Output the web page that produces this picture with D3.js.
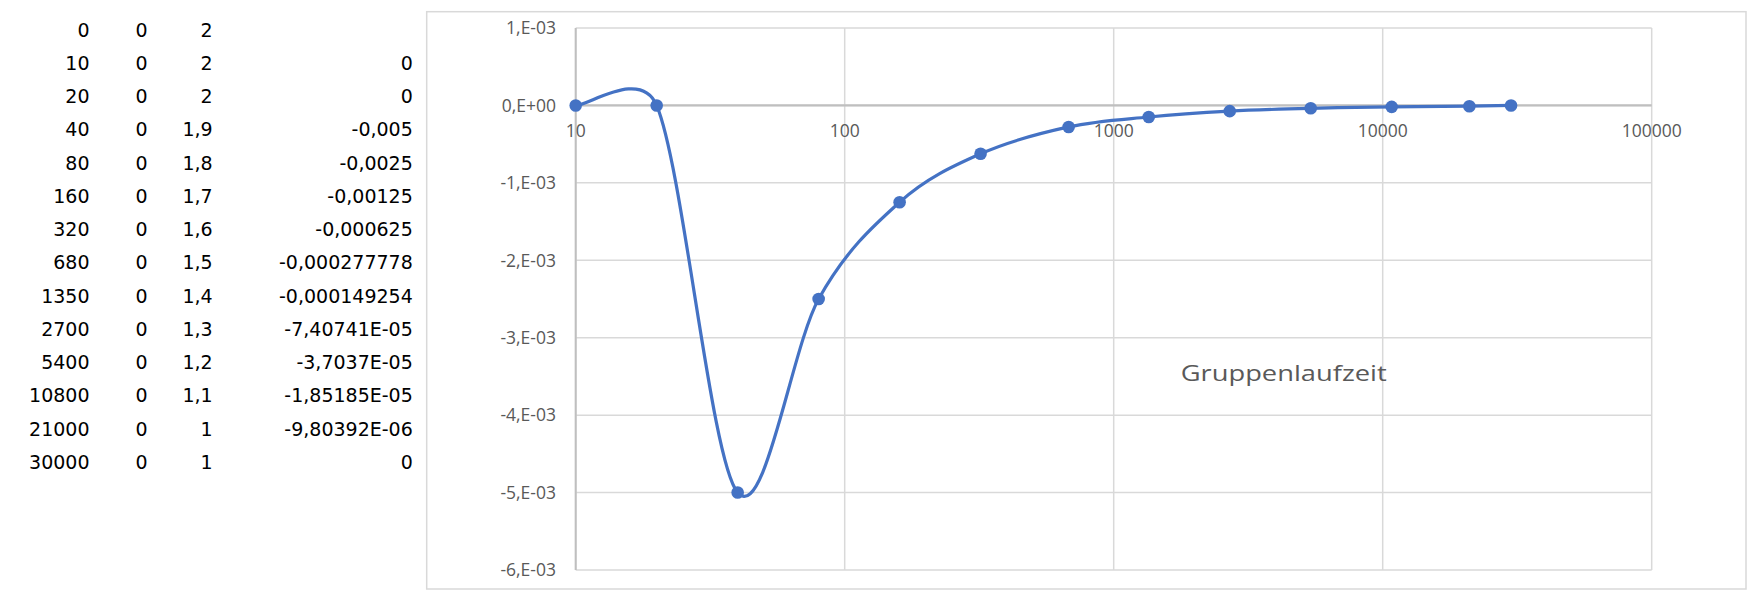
<!DOCTYPE html>
<html><head><meta charset="utf-8">
<script src="https://cdn.jsdelivr.net/npm/d3@7"></script>
<style>body{margin:0;background:#fff}svg{display:block}</style>
</head><body><svg id="c" width="1762" height="605"></svg>
<script>
// ---- data ----
const freq = [0, 10, 20, 40, 80, 160, 320, 680, 1350, 2700, 5400, 10800, 21000, 30000];
const col2 = [0, 0, 0, 0, 0, 0, 0, 0, 0, 0, 0, 0, 0, 0];
const col3 = ["2", "2", "2", "1,9", "1,8", "1,7", "1,6", "1,5", "1,4", "1,3", "1,2", "1,1", "1", "1"];
const delay = [null, 0, 0, -0.005, -0.0025, -0.00125, -0.000625, -0.000277778, -0.000149254,
  -7.40741e-5, -3.7037e-5, -1.85185e-5, -9.80392e-6, 0];
const delayText = ["", "0", "0", "-0,005", "-0,0025", "-0,00125", "-0,000625", "-0,000277778",
  "-0,000149254", "-7,40741E-05", "-3,7037E-05", "-1,85185E-05", "-9,80392E-06", "0"];
const yTicks = [0.001, 0, -0.001, -0.002, -0.003, -0.004, -0.005, -0.006];
const xTicks = [10, 100, 1000, 10000, 100000];
const title = "Gruppenlaufzeit";

// ---- layout ----
const svg = d3.select("#c");
const plot = {l: 575.7, r: 1651.7, t: 28, b: 570};
const x = d3.scaleLog().domain([10, 100000]).range([plot.l, plot.r]);
const y = d3.scaleLinear().domain([-0.006, 0.001]).range([plot.b, plot.t]);

const textCol = "#595959";
const chartFont = "'Open Sans', sans-serif";

// ---- spreadsheet table ----
const tbl = svg.append("g").attr("font-family", "'DejaVu Sans', sans-serif")
  .attr("font-size", 19).attr("fill", "#000").attr("text-anchor", "end");
const rowY = i => 36.7 + i * 33.25;
freq.forEach((f, i) => {
  tbl.append("text").attr("x", 89.5).attr("y", rowY(i)).text(f);
  tbl.append("text").attr("x", 147.7).attr("y", rowY(i)).text(col2[i]);
  tbl.append("text").attr("x", 212.7).attr("y", rowY(i)).text(col3[i]);
  if (delayText[i] !== "") tbl.append("text").attr("x", 412.8).attr("y", rowY(i)).text(delayText[i]);
});

// ---- chart frame ----
svg.append("rect").attr("x", 426.7).attr("y", 11.7).attr("width", 1746 - 426.7).attr("height", 589 - 11.7)
  .attr("fill", "#fff").attr("stroke", "#D9D9D9").attr("stroke-width", 1.5);

// ---- gridlines ----
const grid = svg.append("g").attr("stroke", "#D9D9D9").attr("stroke-width", 1.5);
yTicks.forEach(v => grid.append("line").attr("x1", plot.l).attr("x2", plot.r)
  .attr("y1", y(v)).attr("y2", y(v)));
xTicks.forEach(v => grid.append("line").attr("x1", x(v)).attr("x2", x(v))
  .attr("y1", plot.t).attr("y2", plot.b));

// ---- axis lines ----
svg.append("line").attr("x1", plot.l).attr("x2", plot.l).attr("y1", plot.t).attr("y2", plot.b)
  .attr("stroke", "#BFBFBF").attr("stroke-width", 2);
svg.append("line").attr("x1", plot.l).attr("x2", plot.r).attr("y1", y(0)).attr("y2", y(0))
  .attr("stroke", "#BFBFBF").attr("stroke-width", 2.2);

// ---- tick labels ----
function sciFmt(v) {
  if (v === 0) return "0,E+00";
  const e = Math.floor(Math.log10(Math.abs(v)) + 1e-9);
  const m = Math.round(v / Math.pow(10, e));
  return m + ",E" + (e < 0 ? "-" : "+") + String(Math.abs(e)).padStart(2, "0");
}
const yl = svg.append("g").attr("font-family", chartFont).attr("font-size", 17.5)
  .attr("fill", textCol).attr("text-anchor", "end");
yTicks.forEach(v => yl.append("text").attr("x", 556).attr("y", y(v) + 6.3).text(sciFmt(v)));
const xl = svg.append("g").attr("font-family", chartFont).attr("font-size", 17.5)
  .attr("fill", textCol).attr("text-anchor", "middle");
xTicks.forEach(v => xl.append("text").attr("x", x(v)).attr("y", y(0) + 32).text(d3.format("d")(v)));

// ---- smoothed series (Excel-style bezier smoothing) ----
const pts = freq.map((f, i) => ({f, d: delay[i]})).filter(p => p.d !== null)
  .map(p => [x(p.f), y(p.d)]);
function excelSmooth(ps) {
  const path = d3.path();
  const n = ps.length;
  const dist = (a, b) => Math.hypot(a[0] - b[0], a[1] - b[1]);
  path.moveTo(ps[0][0], ps[0][1]);
  for (let i = 0; i < n - 1; i++) {
    const p0 = ps[Math.max(i - 1, 0)], p1 = ps[i], p2 = ps[i + 1], p3 = ps[Math.min(i + 2, n - 1)];
    const d02 = dist(p0, p2), d12 = dist(p1, p2), d13 = dist(p1, p3);
    let f1 = 1 / 6, f2 = 1 / 6;
    if (d02 > 0 && d02 / 6 >= d12 / 2) f1 = d12 / (2 * d02);
    if (d13 > 0 && d13 / 6 >= d12 / 2) f2 = d12 / (2 * d13);
    path.bezierCurveTo(p1[0] + (p2[0] - p0[0]) * f1, p1[1] + (p2[1] - p0[1]) * f1,
      p2[0] - (p3[0] - p1[0]) * f2, p2[1] - (p3[1] - p1[1]) * f2, p2[0], p2[1]);
  }
  return path.toString();
}
svg.append("path").attr("d", excelSmooth(pts)).attr("fill", "none")
  .attr("stroke", "#4472C4").attr("stroke-width", 3.2).attr("stroke-linejoin", "round");
svg.append("g").selectAll("circle").data(pts).join("circle")
  .attr("cx", d => d[0]).attr("cy", d => d[1]).attr("r", 6.3).attr("fill", "#4472C4");

// ---- title ----
svg.append("text").attr("x", 1180.7).attr("y", 381).attr("font-family", chartFont)
  .attr("font-size", 21.5).attr("fill", textCol)
  .attr("textLength", 206).attr("lengthAdjust", "spacingAndGlyphs").text(title);
</script>
</body></html>
